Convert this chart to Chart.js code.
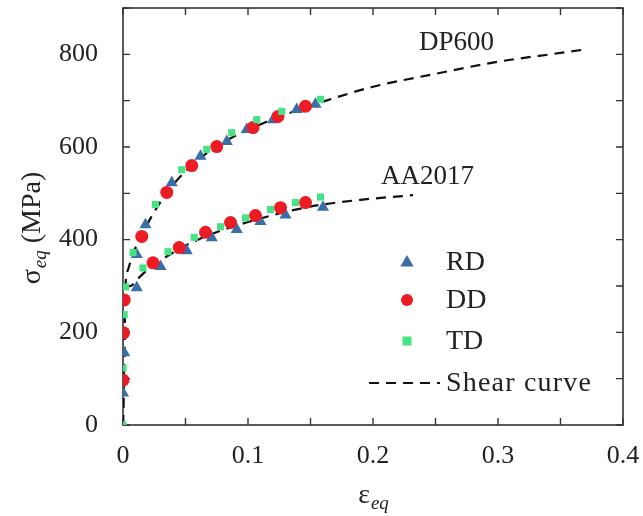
<!DOCTYPE html>
<html>
<head>
<meta charset="utf-8">
<script src="https://cdn.jsdelivr.net/npm/chart.js@4/dist/chart.umd.min.js"></script>
<style>
  html, body { margin: 0; padding: 0; background: #ffffff; }
  #wrap { position: relative; width: 643px; height: 516px; }
</style>
</head>
<body>
<div id="wrap"><canvas id="c"></canvas></div>
<script>
// Equivalent stress–strain data, DP600 and AA2017, three loading directions
const rdDP600X = [0, 0.001, 0.011, 0.018, 0.039, 0.062, 0.083, 0.099, 0.120, 0.139, 0.154];
const rdDP600Y = [69, 156, 368, 432, 523, 580, 612, 638, 659, 681, 692];
const ddDP600X = [0, 0.0005, 0.001, 0.015, 0.035, 0.055, 0.075, 0.104, 0.124, 0.146];
const ddDP600Y = [97, 199, 270, 407, 502, 560, 601, 642, 666, 688];
const tdDP600X = [0, 0, 0.001, 0.002, 0.008, 0.026, 0.047, 0.067, 0.087, 0.107, 0.127, 0.158];
const tdDP600Y = [0, 123, 238, 298, 372, 476, 551, 595, 631, 659, 677, 703];

const rdAA2017X = [0.011, 0.030, 0.051, 0.071, 0.091, 0.110, 0.130, 0.160];
const rdAA2017Y = [296, 342, 376, 404, 422, 439, 453, 470];
const ddAA2017X = [0.024, 0.045, 0.066, 0.086, 0.106, 0.126, 0.146];
const ddAA2017Y = [350, 383, 416, 437, 452, 469, 480];
const tdAA2017X = [0.016, 0.036, 0.057, 0.078, 0.098, 0.118, 0.138, 0.158];
const tdAA2017Y = [339, 374, 405, 428, 447, 465, 480, 492];

// Shear test curves
const shearDP600X = [0, 0.001, 0.002, 0.004, 0.008, 0.015, 0.025, 0.04, 0.06, 0.08, 0.1, 0.12, 0.14, 0.16, 0.2, 0.25, 0.3, 0.35, 0.371];
const shearDP600Y = [0, 150, 300, 335, 370, 410, 460, 518, 572, 610, 637, 660, 680, 698, 730, 758, 784, 803, 811];
const shearAA2017X = [0, 0.001, 0.002, 0.006, 0.012, 0.02, 0.03, 0.045, 0.06, 0.08, 0.1, 0.12, 0.14, 0.16, 0.19, 0.232];
const shearAA2017Y = [0, 150, 292, 300, 316, 336, 355, 380, 400, 421, 438, 453, 466, 476, 486, 496];

// Axes
const xTickValues = [0, 0.1, 0.2, 0.3, 0.4];
const xTickLabels = ['0', '0.1', '0.2', '0.3', '0.4'];
const xMinorValues = [0, 0.05, 0.1, 0.15, 0.2, 0.25, 0.3, 0.35, 0.4];
const yTickValues = [0, 200, 400, 600, 800];
const yTickLabels = ['0', '200', '400', '600', '800'];
const yMinorValues = [0, 100, 200, 300, 400, 500, 600, 700, 800, 900];

const seriesNames = ['RD', 'DD', 'TD', 'Shear curve'];
const materialNames = ['DP600', 'AA2017'];

const pts = (xs, ys) => xs.map((x, i) => ({ x: x, y: ys[i] }));

const SERIF = '"Liberation Serif", "Times New Roman", serif';
const INK = '#222222';
const BLUE = '#3a6ea8';
const RED = '#ec1c24';
const GREEN = '#45e384';

function drawMarker(ctx, style, x, y, r, color) {
  ctx.save();
  ctx.fillStyle = color;
  ctx.beginPath();
  if (style === 'triangle') {
    ctx.moveTo(x, y - r);
    ctx.lineTo(x + r * 0.95, y + r * 0.65);
    ctx.lineTo(x - r * 0.95, y + r * 0.65);
    ctx.closePath();
  } else if (style === 'circle') {
    ctx.arc(x, y, r, 0, Math.PI * 2);
  } else {
    ctx.rect(x - r, y - r, 2 * r, 2 * r);
  }
  ctx.fill();
  ctx.restore();
}

// Frame with inward ticks on all four sides
const framePlugin = {
  id: 'frame',
  beforeDatasetsDraw(chart) {
    const { ctx, chartArea: a, scales: { x, y } } = chart;
    ctx.save();
    ctx.strokeStyle = '#333333';
    ctx.lineWidth = 1.6;
    ctx.strokeRect(a.left, a.top, a.right - a.left, a.bottom - a.top);
    ctx.lineWidth = 1.4;
    const L = 7;
    ctx.beginPath();
    xMinorValues.forEach(v => {
      const px = x.getPixelForValue(v);
      ctx.moveTo(px, a.bottom); ctx.lineTo(px, a.bottom - L);
      ctx.moveTo(px, a.top); ctx.lineTo(px, a.top + L);
    });
    yMinorValues.forEach(v => {
      const py = y.getPixelForValue(v);
      ctx.moveTo(a.left, py); ctx.lineTo(a.left + L, py);
      ctx.moveTo(a.right, py); ctx.lineTo(a.right - L, py);
    });
    ctx.stroke();
    ctx.restore();
  }
};

// Axis titles, material labels and legend
const textPlugin = {
  id: 'texts',
  afterDraw(chart) {
    const { ctx, chartArea: a } = chart;
    ctx.save();
    ctx.fillStyle = INK;
    ctx.textBaseline = 'alphabetic';

    // x title: epsilon_eq
    ctx.font = '28px ' + SERIF;
    const cx = (a.left + a.right) / 2;
    const eps = 'ε';
    const ew = ctx.measureText(eps).width;
    ctx.font = 'italic 19px ' + SERIF;
    const sw = ctx.measureText('eq').width;
    const startX = cx - (ew + sw) / 2;
    ctx.font = '28px ' + SERIF;
    ctx.fillText(eps, startX, 503);
    ctx.font = 'italic 19px ' + SERIF;
    ctx.fillText('eq', startX + ew + 1, 509);

    // y title: sigma_eq (MPa), rotated
    ctx.save();
    ctx.translate(40, 228);
    ctx.rotate(-Math.PI / 2);
    ctx.font = '28px ' + SERIF;
    const sg = 'σ';
    const sgw = ctx.measureText(sg).width;
    const rest = ' (MPa)';
    const rw = ctx.measureText(rest).width;
    ctx.font = 'italic 19px ' + SERIF;
    const qw = ctx.measureText('eq').width;
    const total = sgw + qw + rw + 1;
    let px = -total / 2;
    ctx.font = '28px ' + SERIF;
    ctx.fillText(sg, px, 0);
    px += sgw + 1;
    ctx.font = 'italic 19px ' + SERIF;
    ctx.fillText('eq', px, 6);
    px += qw;
    ctx.font = '28px ' + SERIF;
    ctx.fillText(rest, px, 0);
    ctx.restore();

    // material labels
    ctx.font = '27px ' + SERIF;
    ctx.textBaseline = 'middle';
    ctx.fillText(materialNames[0], 419, 43);
    ctx.fillText(materialNames[1], 381, 177);

    // legend
    const lx = 407, tx = 446;
    const rows = [262, 300, 341, 383];
    drawMarker(ctx, 'triangle', lx, rows[0], 7, BLUE);
    drawMarker(ctx, 'circle', lx, rows[1], 6, RED);
    drawMarker(ctx, 'rect', lx, rows[2], 4.5, GREEN);
    ctx.save();
    ctx.strokeStyle = '#111111';
    ctx.lineWidth = 2.2;
    ctx.setLineDash([10, 7]);
    ctx.beginPath();
    ctx.moveTo(369, rows[3]);
    ctx.lineTo(440, rows[3]);
    ctx.stroke();
    ctx.restore();
    ctx.font = '28px ' + SERIF;
    ctx.fillStyle = INK;
    seriesNames.forEach((n, i) => {
      ctx.letterSpacing = i === 3 ? '1.2px' : '0px';
      ctx.fillText(n, tx, rows[i] + 1);
    });
    ctx.letterSpacing = '0px';
    ctx.restore();
  }
};

const shearStyle = {
  type: 'line',
  showLine: true,
  borderColor: '#111111',
  borderWidth: 2.2,
  borderDash: [10, 7],
  pointRadius: 0,
  fill: false,
  cubicInterpolationMode: 'monotone'
};

new Chart(document.getElementById('c'), {
  type: 'scatter',
  data: {
    datasets: [
      Object.assign({ label: 'Shear DP600', data: pts(shearDP600X, shearDP600Y), order: 5 }, shearStyle),
      Object.assign({ label: 'Shear AA2017', data: pts(shearAA2017X, shearAA2017Y), order: 4 }, shearStyle),
      { label: 'RD', data: pts(rdDP600X.concat(rdAA2017X), rdDP600Y.concat(rdAA2017Y)),
        pointStyle: 'triangle', pointRadius: 7, backgroundColor: BLUE, borderColor: BLUE, borderWidth: 0, order: 3 },
      { label: 'DD', data: pts(ddDP600X.concat(ddAA2017X), ddDP600Y.concat(ddAA2017Y)),
        pointStyle: 'circle', pointRadius: 6.5, backgroundColor: RED, borderColor: RED, borderWidth: 0, order: 2 },
      { label: 'TD', data: pts(tdDP600X.concat(tdAA2017X), tdDP600Y.concat(tdAA2017Y)),
        pointStyle: 'rect', pointRadius: 5, backgroundColor: GREEN, borderColor: GREEN, borderWidth: 0, order: 1 }
    ]
  },
  options: {
    responsive: true,
    maintainAspectRatio: false,
    animation: false,
    events: [],
    layout: { padding: { left: 0, top: 8, right: 20, bottom: 0 } },
    plugins: { legend: { display: false }, tooltip: { enabled: false } },
    scales: {
      x: {
        type: 'linear', min: 0, max: 0.4,
        afterBuildTicks: s => { s.ticks = xTickValues.map(v => ({ value: v })); },
        afterFit: s => { s.height = 91; s.paddingLeft = 0; s.paddingRight = 0; },
        grid: { display: false, drawTicks: false, tickLength: 0 },
        border: { display: false },
        ticks: {
          padding: 16, color: INK, maxRotation: 0, autoSkip: false,
          font: { family: SERIF, size: 26 },
          callback: (v, i) => xTickLabels[i]
        }
      },
      y: {
        type: 'linear', min: 0, max: 900,
        afterBuildTicks: s => { s.ticks = yTickValues.map(v => ({ value: v })); },
        afterFit: s => { s.width = 123; s.paddingTop = 0; s.paddingBottom = 0; },
        grid: { display: false, drawTicks: false, tickLength: 0 },
        border: { display: false },
        ticks: {
          padding: 25, color: INK, autoSkip: false,
          font: { family: SERIF, size: 26 },
          callback: (v, i) => yTickLabels[i]
        }
      }
    }
  },
  plugins: [framePlugin, textPlugin]
});
</script>
</body>
</html>
